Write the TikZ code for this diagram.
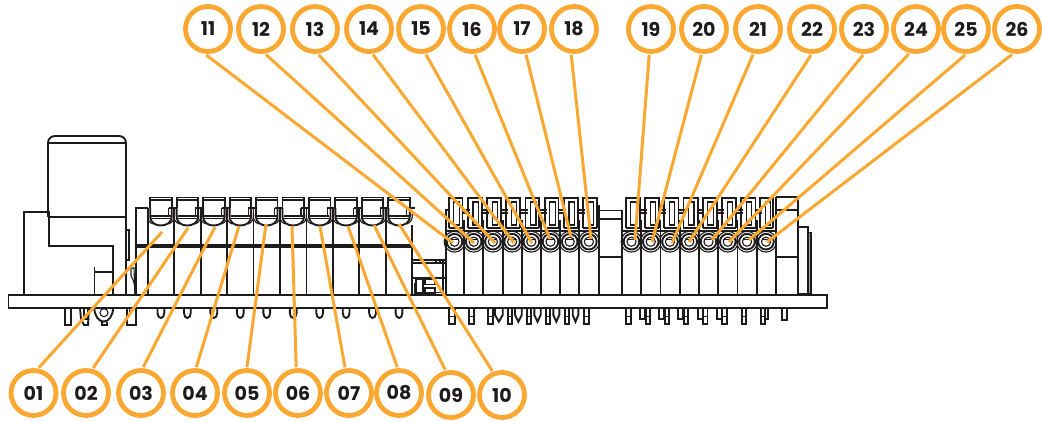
\documentclass[tikz,border=0pt]{standalone}
\usepackage{fontspec}
\setmainfont{Poppins}
\definecolor{ora}{HTML}{FBA833}
\definecolor{ink}{HTML}{1D1B1C}
\tikzset{
  mech/.style={draw=ink,line width=1.9pt,line join=miter},
  fine/.style={draw=ink,line width=1.1pt},
  tag/.style={circle,draw=ora,line width=4.8pt,minimum size=45pt,inner sep=0pt,outer sep=3.5pt,
    text=ink,font=\fontsize{19}{20}\selectfont\bfseries},
  leader/.style={draw=ora,line width=3pt}
}
\begin{document}
\begin{tikzpicture}[x=1pt,y=-1pt]
\useasboundingbox (0,0) rectangle (1042,421);
% ---- board
\draw[mech] (8.5,295) rectangle (827,307.6);
% ---- relay at the left
\draw[mech] (48,217) -- (48,143) .. controls (48,139) and (51,136) .. (55,136) -- (119,136)
   .. controls (123,136) and (126,139) .. (126,143) -- (126,247);
\draw[mech] (48,143) -- (126,143);
\draw[mech] (48,217) -- (126,217);
\draw[mech] (24,295) -- (24,212) -- (49,212) -- (49,246) -- (113,246) -- (113,295);
\draw[mech] (94.5,295) -- (94.5,267);
\draw[mech] (94.5,272) -- (113,272);
\draw[mech] (126,230) rectangle (129,260);
\draw[mech] (126,247) -- (126,295);
\draw[fine] (128,268) -- (134,268) -- (135,295);
\draw[fine] (131,268) -- (131,276) .. controls (134,280) and (135,285) .. (135,295);
\draw[mech] (136,295) -- (136,208) -- (148,208);
% ---- first terminal block
\draw[mech] (136,245) -- (412.3,245);
\draw[mech] (136,247.2) -- (412.3,247.2);
\draw[mech] (412.3,225) -- (412.3,295);
\foreach \i in {0,...,9}{
  \pgfmathsetmacro\x{147.7+26.46*\i}
  \begin{scope}[shift={(\x,0)}]
    \draw[mech] (0,208) -- (0,295);
    \draw[mech] (2.5,208) -- (2.5,197.5) -- (24,197.5) -- (24,208);
    \draw[fine] (2.5,200) -- (24,200);
    \draw[mech] (2.5,208) -- (2.5,216) .. controls (2.5,223) and (8,225.5) .. (13,225.5)
       .. controls (18.5,225.5) and (24,223) .. (24,216) -- (24,208);
    \draw[mech] (21,208) -- (29,208);
    \draw[fine] (0,214) .. controls (-1,219) and (1.5,222.5) .. (5,224);
    \draw[fine] (26.4,214) .. controls (27,219) and (25,222.5) .. (21,224);
    \draw[fine] (3.5,216) -- (23,216);
    \draw[fine] (3.5,218.3) -- (23,218.3);
    \draw[fine] (21,208) -- (21,216);
    \draw[mech] (9.8,307.6) -- (9.8,313) .. controls (9.8,316) and (11.5,318) .. (13.2,318)
       .. controls (14.9,318) and (16.6,316) .. (16.6,313) -- (16.6,307.6);
  \end{scope}
}
% ---- small part between the blocks
\draw[mech] (412.3,260) -- (445.7,260);
\draw[mech] (412.3,263) -- (445.7,263);
\draw[mech] (412.3,278.3) -- (445.7,278.3);
\draw[mech] (443,260) -- (443,295);
\draw[fine] (416,279) rectangle (423,294);
\draw[fine] (425,279) rectangle (435,284.5);
\draw[fine] (425,288) rectangle (435,294);
\draw[fine] (436,260) -- (436,263);
\draw[fine] (440,260) -- (440,263);
\draw[mech] (416,292.5) -- (443,292.5);
\draw[fine] (414.5,283) -- (414.5,294);
% ---- second terminal blocks: frames, walls, bores
\newcommand{\termunit}[2]{%
  \draw[mech] ({#1-5.8},228) -- ({#1-5.8},198) -- ({#1+#2},198) -- ({#1+#2},228);
  \draw[fine] ({#1-0.7},202) rectangle ({#1+4.7},225);
  \draw[fine] ({#1-5.8},228) -- ({#1+#2},228);
  \draw[fine] ({#1-9.3},231) -- ({#1+9.9},231);
  \draw[fine] ({#1},241.7) circle (4.6);
  \draw[mech] ({#1},241.7) circle (7.8);
  \draw[fine] ({#1},241.7) circle (10.4);
  \draw[fine] ({#1-4.4},239.7) -- ({#1+4.4},239.7);
  \draw[mech] ({#1+9.7},220) -- ({#1+9.7},295);
}
\foreach \k in {0,...,7}{
  \pgfmathsetmacro\x{454.5+19.2*\k}
  \termunit{\x}{8}
}
\foreach \k in {0,...,6}{
  \pgfmathsetmacro\x{631.5+19.25*\k}
  \termunit{\x}{8.5}
}
\termunit{766}{7}
\draw[mech] (445.7,295) -- (445.7,210) -- (450,210);
\draw[fine] (445.7,220) -- (449,220);
\foreach \k in {0,...,6}{
  \pgfmathsetmacro\x{463+19.2*\k}
  \draw[fine] (\x,210) -- ({\x+7},210);
  \draw[fine] (\x,213) -- ({\x+7},213);
}
\foreach \k in {0,...,6}{
  \pgfmathsetmacro\x{640.5+19.25*\k}
  \draw[fine] (\x,210) -- ({\x+6},210);
  \draw[fine] (\x,213) -- ({\x+6},213);
}
% ---- spacer between 18 and 19
\draw[mech] (599.3,210.5) -- (621.7,210.5);
\draw[mech] (599.3,219.3) -- (621.7,219.3);
\draw[mech] (599.3,257.3) -- (621.7,257.3);
\draw[mech] (621.7,210) -- (621.7,295);
\draw[mech] (599.3,205) -- (599.3,295);
% ---- end piece at the right
\draw[mech] (776,197) -- (797.7,197) -- (797.7,295);
\draw[mech] (776,197) -- (776,295);
\draw[mech] (776,210) -- (797.7,210);
\draw[mech] (776,257.3) -- (797.7,257.3);
\fill[black!35] (808,232.5) rectangle (811,294);
\draw[mech] (797.7,226.7) -- (808,226.7) -- (808,295);
\draw[fine] (808,232.5) -- (811,232.5) -- (811,294);
\draw[mech] (797.7,294) -- (811,294);
% ---- pins under the left relay
\draw[mech] (65,307.6) -- (65,325) -- (70.7,325) -- (70.7,307.6);
\draw[mech] (80,307.6) -- (81,319) -- (84,325) -- (88,325) -- (89,307.6);
\draw[fine] (84,307.6) -- (84,319) -- (88,319) -- (88,307.6);
\draw[mech] (94.3,307.6) arc[start angle=180,end angle=0,x radius=9.4,y radius=14];
\draw[fine] (104,312.7) circle (4);
\draw[mech] (101.7,321.5) -- (101.7,325) -- (107,325) -- (107,321.5);
\draw[mech] (127,307.6) -- (127,325) -- (136,325) -- (136,307.6);
\draw[fine] (129.5,307.6) -- (129.5,316);
% ---- pins under the second blocks
\foreach \a/\b in {449.3/455,469.3/474,488.3/492.7,507.7/512.3,526.7/531,546/550.3,565/569.3,584.3/588.7,
  626/630.7,646/650.3,665/669.3,684/688.3,703.3/707.5,722.3/726.7,741.7/746,760.7/765}{
  \draw[mech] (\a,307.6) rectangle (\b,324.3);
  \draw[fine] (\a,316.5) -- (\b,316.5);
}
\foreach \a/\b in {640/645,659/664.3,678.3/683.3,697.7/702.7,716.7/721.7,764.5/768}{
  \draw[mech] (\a,307.6) rectangle (\b,319.3);
}
\draw[mech] (781.7,307.6) rectangle (787.3,320);
\foreach \a/\b in {495/502.7,515/521.7,534.3/540.7,553.3/559.3,572.7/578.3}{
  \draw[mech] (\a,307.6) -- (\a,315) -- ({(\a+\b)/2},321.7) -- (\b,315) -- (\b,307.6);
}
% ---- numbered tags and leaders
\foreach \n/\cx/\cy/\ex/\ey/\tx/\ty in {
  01/33.5/393/39/366.5/162/232,
  02/86/393/93/367/188/228,
  03/141/393/143/367/215/227,
  04/195/393/196/367/239/226,
  05/247/393/247/367/266/224,
  06/298/393/296/368/292/226,
  07/349/393/345/368/320/226,
  08/399/393/397/368/348/226,
  09/451/395/445/370/374/225,
  10/502/395/492/371/399/224,
  11/208/29/206/55/453/243,
  12/261/29/266/55/474/243,
  13/315/29/318/53/495/243,
  14/369/29/373/55/514/243,
  15/421/29/426/55/532/243,
  16/472/29/475/55/550/239,
  17/522/29/526/55/571/237,
  18/574/29/571/55/591/239,
  19/651/29/649/55/635/240,
  20/704/29/701/55/652/242,
  21/758/29/753/53/672/243,
  22/812/29/811/55/689/242,
  23/864/29/863/55/712/240,
  24/916/29/909/53/729/242,
  25/966/29/965/55/749/240,
  26/1017/29/1012/53/767/242}{
  \pgfmathsetmacro\ang{atan2(\cy-\ey,\ex-\cx)}
  \node[tag] (c\n) at (\cx,\cy) {\n};
  \coordinate (t\n) at (\tx,\ty);
  \draw[leader] (c\n.\ang) -- (t\n);
}
\end{tikzpicture}
\end{document}
